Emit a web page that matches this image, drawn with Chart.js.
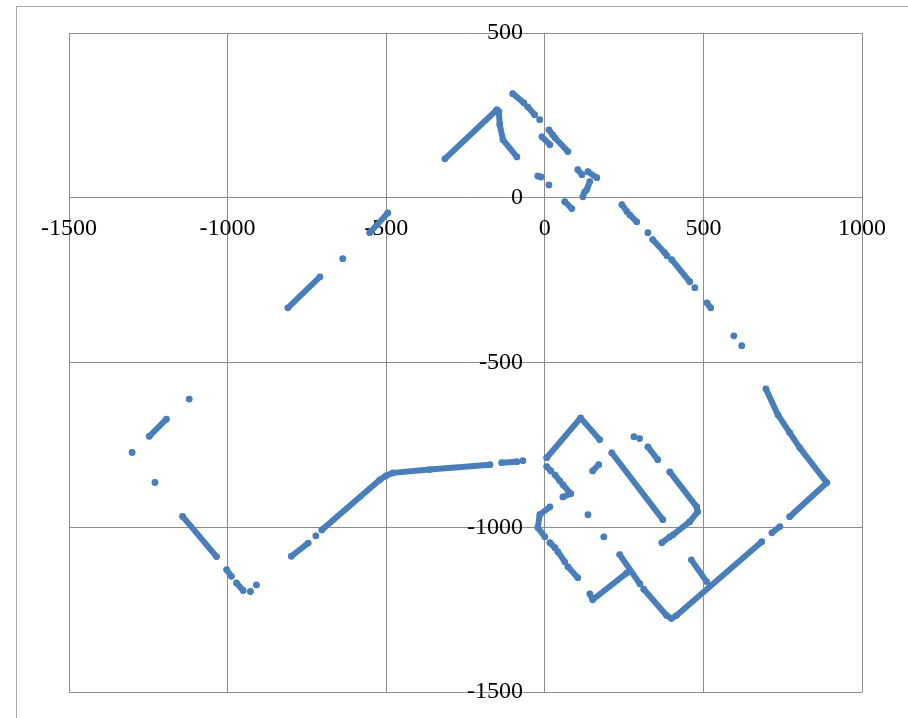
<!DOCTYPE html>
<html>
<head>
<meta charset="utf-8">
<script src="https://cdn.jsdelivr.net/npm/chart.js@4/dist/chart.umd.min.js"></script>
<style>
    html, body { margin: 0; padding: 0; background: #fff; overflow: hidden; }
    #wrap { position: relative; width: 908px; height: 718px; }
    #frame { position: absolute; left: 16px; top: 6px; width: 1000px; height: 1000px;
             border-left: 1px solid #a6a6a6; border-top: 1px solid #a6a6a6; }
    #plot { position: absolute; left: 0; top: 0; }
</style>
</head>
<body>
<div id="wrap">
    <div id="frame"></div>
    <canvas id="plot" width="908" height="718"></canvas>
</div>
<script>
// Axis ticks
const xTicks = [-1500, -1000, -500, 0, 500, 1000];
const yTicks = [-1500, -1000, -500, 0, 500];

// Traced track pieces, [x, y] pairs; one-point pieces are single dots
const peakTrack = [
    [[-315, 118], [-151, 267], [-145, 262], [-142, 222], [-132, 176], [-88, 124]],
];

const upperDashes = [
    [[-101, 316], [-66, 288]],
    [[-54, 276], [-32, 252]],
    [[-16, 237]],
    [[13, 206], [25, 191]],
    [[32, 182], [73, 140]],
    [[-9, 185], [16, 161]],
    [[-22, 66], [-12, 63]],
    [[13, 39]],
];

const bracketDashes = [
    [[104, 85], [117, 70]],
    [[136, 79], [164, 61]],
    [[142, 49], [132, 24]],
    [[126, 18], [120, 3]],
    [[63, -12], [85, -33]],
];

const northEastTrack = [
    [[243, -21], [259, -42]],
    [[268, -52], [290, -73]],
    [[325, -106]],
    [[340, -127], [378, -167]],
    [[385, -176]],
    [[400, -188], [457, -255]],
    [[473, -273]],
    [[511, -319], [523, -334]],
    [[596, -419]],
    [[621, -449]],
];

const westDiagonal = [
    [[-495, -46], [-552, -106]],
    [[-637, -185]],
    [[-709, -240], [-810, -334]],
];

const farWest = [
    [[-1121, -611]],
    [[-1193, -672], [-1247, -724]],
    [[-1301, -773]],
    [[-1229, -864]],
    [[-1142, -967], [-1035, -1089]],
    [[-1003, -1129], [-988, -1149]],
    [[-972, -1169], [-951, -1192]],
    [[-928, -1195]],
    [[-909, -1175]],
];

const southWestTrack = [
    [[-799, -1088], [-746, -1048]],
    [[-722, -1026]],
    [[-703, -1008], [-520, -856], [-501, -844], [-479, -835], [-363, -825], [-173, -810]],
    [[-136, -804], [-88, -801]],
    [[-69, -798]],
];

const innerLoops = [
    [[6, -789], [113, -668], [173, -734]],
    [[6, -816], [19, -829]],
    [[32, -841], [47, -859]],
    [[57, -871], [82, -898], [57, -908]],
    [[136, -962]],
    [[186, -1029]],
    [[151, -829], [170, -810]],
    [[16, -938], [-16, -962], [-22, -1001], [0, -1029]],
    [[16, -1047], [32, -1062]],
    [[41, -1074], [63, -1105]],
    [[73, -1120], [104, -1153]],
];

const outerLoops = [
    [[142, -1202], [151, -1220], [258, -1139]],
    [[236, -1083], [300, -1172]],
    [[312, -1188], [384, -1268], [399, -1277], [415, -1268], [684, -1044]],
    [[716, -1017], [741, -998]],
    [[772, -968], [889, -865], [804, -759], [772, -713], [735, -659], [697, -580]],
    [[211, -774], [372, -977]],
    [[281, -725]],
    [[299, -731]],
    [[325, -756], [356, -795]],
    [[394, -832], [479, -938], [482, -953], [457, -983], [404, -1023]],
    [[369, -1047], [394, -1029]],
    [[462, -1099], [510, -1165]],
];

const blue = '#4a7ebb';
const gridGrey = '#8c8c8c';
const labelFont = { family: "'Liberation Serif', 'Times New Roman', serif", size: 24 };

const datasets = [];
[peakTrack, upperDashes, bracketDashes, northEastTrack, westDiagonal,
 farWest, southWestTrack, innerLoops, outerLoops].forEach(group => {
    group.forEach(piece => {
        datasets.push({
            data: piece.map(([x, y]) => ({ x, y })),
            showLine: true,
            borderColor: blue,
            backgroundColor: blue,
            borderWidth: 6,
            borderCapStyle: 'round',
            borderJoinStyle: 'round',
            pointRadius: 3.4,
            pointBorderWidth: 0,
            pointHoverRadius: 3.4,
        });
    });
});

new Chart(document.getElementById('plot'), {
    type: 'scatter',
    data: { datasets },
    options: {
        responsive: false,
        animation: false,
        events: [],
        layout: { padding: { left: 69, right: 46, top: 33, bottom: 26 } },
        plugins: { legend: { display: false }, tooltip: { enabled: false } },
        scales: {
            x: {
                type: 'linear',
                min: xTicks[0],
                max: xTicks[xTicks.length - 1],
                position: { y: 0 },
                afterBuildTicks: s => { s.ticks = xTicks.map(v => ({ value: v })); },
                ticks: { color: '#000', font: labelFont, padding: 17, maxRotation: 0, autoSkip: false,
                         callback: v => String(v) },
                grid: { color: gridGrey, drawTicks: false },
                border: { display: false },
            },
            y: {
                type: 'linear',
                min: yTicks[0],
                max: yTicks[yTicks.length - 1],
                position: { x: -69 },
                afterBuildTicks: s => { s.ticks = yTicks.map(v => ({ value: v })); },
                ticks: { color: '#000', font: labelFont, autoSkip: false,
                         callback: v => String(v) },
                grid: { color: gridGrey, drawTicks: false },
                border: { display: false },
            },
        },
    },
});
</script>
</body>
</html>
